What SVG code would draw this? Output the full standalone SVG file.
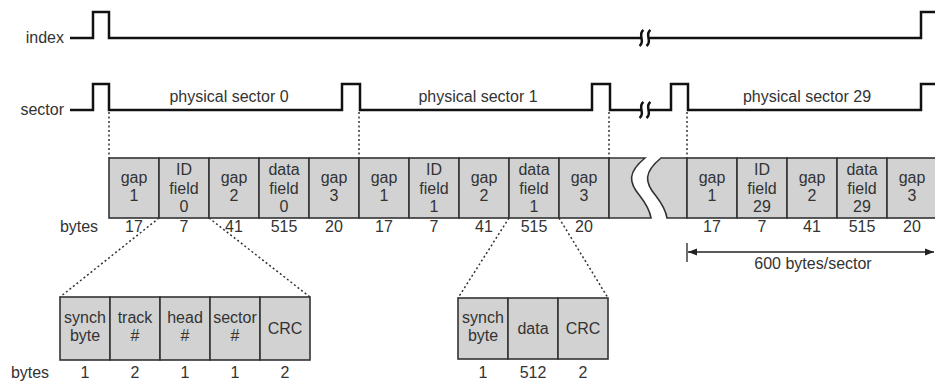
<svg xmlns="http://www.w3.org/2000/svg" width="935" height="383" viewBox="0 0 935 383">
<style>
text{font-family:"Liberation Sans",Arial,sans-serif;font-size:16px;fill:#333;text-anchor:middle}
.lbl{text-anchor:end}
.sig{fill:none;stroke:#111;stroke-width:2.5}
.brk{fill:none;stroke:#111;stroke-width:2.5}
.cell{fill:#d2d2d2;stroke:#333;stroke-width:1.6}
.dot{fill:none;stroke:#333;stroke-width:1.5;stroke-dasharray:2,2.5}
.arr{fill:none;stroke:#222;stroke-width:1.3}
</style>
<defs>
<path id="sq" d="M-1.5,-8 C-8,-3.5 1,3.5 -5.5,8 M5.5,-8 C-1,-3.5 8,3.5 1.5,8"/>
<marker id="ah" viewBox="0 0 10 10" refX="10" refY="5" markerWidth="9" markerHeight="9" markerUnits="userSpaceOnUse" orient="auto-start-reverse">
<path d="M0,1 L10,5 L0,9 Z" fill="#222"/>
</marker>
</defs>

<g id="signals">
<text class="lbl" x="64" y="43">index</text>
<path class="sig" d="M70,38 H93 V12 H109 V38 H641.5"/>
<path class="sig" d="M648.5,38 H921 V12 H936"/>
<use href="#sq" class="brk" x="645" y="38"/>
<text class="lbl" x="64" y="115">sector</text>
<path class="sig" d="M70,110 H93 V84 H109 V110 H342 V84 H360 V110 H592 V84 H610 V110 H641.5"/>
<path class="sig" d="M648.5,110 H671 V84 H688 V110 H921 V84 H936"/>
<use href="#sq" class="brk" x="645" y="110"/>
<text x="229" y="102">physical sector 0</text>
<text x="478" y="102">physical sector 1</text>
<text x="807" y="102">physical sector 29</text>
</g>

<g id="connectors">
<line class="dot" x1="109" y1="112" x2="109" y2="158"/>
<line class="dot" x1="359" y1="112" x2="359" y2="158"/>
<line class="dot" x1="609" y1="112" x2="609" y2="158"/>
<line class="dot" x1="687" y1="112" x2="687" y2="158"/>
<line class="dot" x1="159" y1="218" x2="60" y2="297"/>
<line class="dot" x1="209" y1="218" x2="310" y2="297"/>
<line class="dot" x1="509" y1="218" x2="458" y2="298"/>
<line class="dot" x1="559" y1="218" x2="608" y2="298"/>
<line class="arr" x1="687" y1="243" x2="687" y2="262"/>
<line class="arr" x1="688" y1="252" x2="934" y2="252" marker-start="url(#ah)" marker-end="url(#ah)"/>
</g>

<g id="sector0">
<g id="s0-gap1"><rect class="cell" x="109" y="158" width="50" height="60"/><text x="134" y="183">gap</text><text x="134" y="201">1</text></g>
<g id="s0-id"><rect class="cell" x="159" y="158" width="50" height="60"/><text x="184" y="175">ID</text><text x="184" y="193.5">field</text><text x="184" y="212">0</text></g>
<g id="s0-gap2"><rect class="cell" x="209" y="158" width="50" height="60"/><text x="234" y="183">gap</text><text x="234" y="201">2</text></g>
<g id="s0-data"><rect class="cell" x="259" y="158" width="50" height="60"/><text x="284" y="175">data</text><text x="284" y="193.5">field</text><text x="284" y="212">0</text></g>
<g id="s0-gap3"><rect class="cell" x="309" y="158" width="50" height="60"/><text x="334" y="183">gap</text><text x="334" y="201">3</text></g>
</g>

<g id="sector1">
<g id="s1-gap1"><rect class="cell" x="359" y="158" width="50" height="60"/><text x="384" y="183">gap</text><text x="384" y="201">1</text></g>
<g id="s1-id"><rect class="cell" x="409" y="158" width="50" height="60"/><text x="434" y="175">ID</text><text x="434" y="193.5">field</text><text x="434" y="212">1</text></g>
<g id="s1-gap2"><rect class="cell" x="459" y="158" width="50" height="60"/><text x="484" y="183">gap</text><text x="484" y="201">2</text></g>
<g id="s1-data"><rect class="cell" x="509" y="158" width="50" height="60"/><text x="534" y="175">data</text><text x="534" y="193.5">field</text><text x="534" y="212">1</text></g>
<g id="s1-gap3"><rect class="cell" x="559" y="158" width="50" height="60"/><text x="584" y="183">gap</text><text x="584" y="201">3</text></g>
</g>

<g id="track-break">
<path class="cell" d="M609,158 H645 C628,172 628,182 640,196 C647,205 650,212 651,218 H609 Z"/>
<path class="cell" d="M687,158 H661 C644,172 644,182 656,196 C663,205 666,212 667,218 H687 Z"/>
</g>

<g id="sector29">
<g id="s29-gap1"><rect class="cell" x="687" y="158" width="50" height="60"/><text x="712" y="183">gap</text><text x="712" y="201">1</text></g>
<g id="s29-id"><rect class="cell" x="737" y="158" width="50" height="60"/><text x="762" y="175">ID</text><text x="762" y="193.5">field</text><text x="762" y="212">29</text></g>
<g id="s29-gap2"><rect class="cell" x="787" y="158" width="50" height="60"/><text x="812" y="183">gap</text><text x="812" y="201">2</text></g>
<g id="s29-data"><rect class="cell" x="837" y="158" width="50" height="60"/><text x="862" y="175">data</text><text x="862" y="193.5">field</text><text x="862" y="212">29</text></g>
<g id="s29-gap3"><rect class="cell" x="887" y="158" width="52" height="60"/><text x="912" y="183">gap</text><text x="912" y="201">3</text></g>
</g>

<g id="byte-counts">
<text x="79" y="232">bytes</text>
<text x="134" y="232">17</text><text x="184" y="232">7</text><text x="234" y="232">41</text><text x="284" y="232">515</text><text x="334" y="232">20</text>
<text x="384" y="232">17</text><text x="434" y="232">7</text><text x="484" y="232">41</text><text x="534" y="232">515</text><text x="584" y="232">20</text>
<text x="712" y="232">17</text><text x="762" y="232">7</text><text x="812" y="232">41</text><text x="862" y="232">515</text><text x="912" y="232">20</text>
<text x="813" y="269">600 bytes/sector</text>
</g>

<g id="id-field-detail">
<g id="id-synch"><rect class="cell" x="60" y="297" width="50" height="63"/><text x="85" y="323">synch</text><text x="85" y="341">byte</text></g>
<g id="id-track"><rect class="cell" x="110" y="297" width="50" height="63"/><text x="135" y="323">track</text><text x="135" y="341">#</text></g>
<g id="id-head"><rect class="cell" x="160" y="297" width="50" height="63"/><text x="185" y="323">head</text><text x="185" y="341">#</text></g>
<g id="id-sector"><rect class="cell" x="210" y="297" width="50" height="63"/><text x="235" y="323">sector</text><text x="235" y="341">#</text></g>
<g id="id-crc"><rect class="cell" x="260" y="297" width="50" height="63"/><text x="285" y="334">CRC</text></g>
<text x="30" y="378">bytes</text>
<text x="85" y="378">1</text><text x="135" y="378">2</text><text x="185" y="378">1</text><text x="235" y="378">1</text><text x="285" y="378">2</text>
</g>

<g id="data-field-detail">
<g id="df-synch"><rect class="cell" x="458" y="298" width="50" height="61"/><text x="483" y="323">synch</text><text x="483" y="341">byte</text></g>
<g id="df-data"><rect class="cell" x="508" y="298" width="50" height="61"/><text x="533" y="334">data</text></g>
<g id="df-crc"><rect class="cell" x="558" y="298" width="50" height="61"/><text x="583" y="334">CRC</text></g>
<text x="483" y="378">1</text><text x="533" y="378">512</text><text x="583" y="378">2</text>
</g>
</svg>
